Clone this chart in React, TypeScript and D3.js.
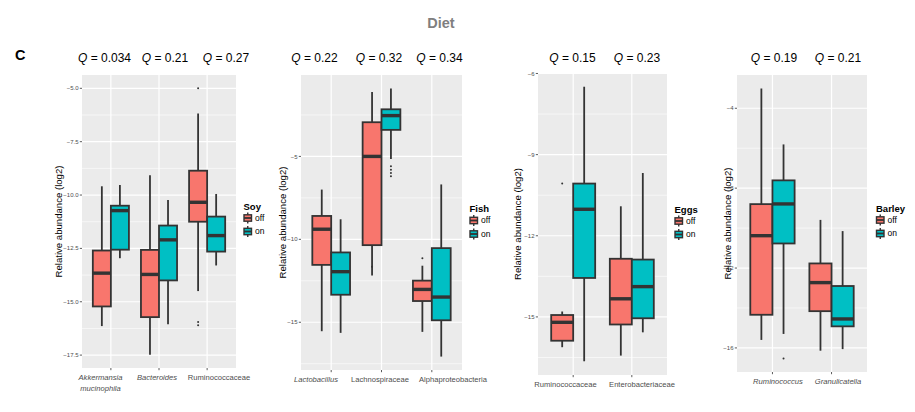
import React from 'react';
import * as d3 from 'd3';

// [lower whisker, Q1, median, Q3, upper whisker] in log2 abundance
type Box = [number, number, number, number, number];

// ---- Soy ----
const soyCategories = ['Akkermansia\nmucinophila', 'Bacteroides', 'Ruminococcaceae'];
const soyQ = ['0.034', '0.21', '0.27'];
const soyTicks = [-5, -7.5, -10, -12.5, -15, -17.5];
const soyOff: Box[] = [
  [-16.14, -15.22, -13.66, -12.6, -9.59],
  [-17.48, -15.72, -13.72, -12.57, -9.07],
  [-14.5, -11.25, -10.34, -8.86, -6.18],
];
const soyOn: Box[] = [
  [-12.96, -12.56, -10.73, -10.5, -9.53],
  [-16.06, -14.0, -12.1, -11.43, -10.23],
  [-13.3, -12.65, -11.9, -11.01, -9.95],
];
const soyOffOutliers = [[], [], [-5.0, -15.95, -16.1]];
const soyOnOutliers = [[], [], []];

// ---- Fish ----
const fishCategories = ['Lactobacillus', 'Lachnospiraceae', 'Alphaproteobacteria'];
const fishQ = ['0.22', '0.32', '0.34'];
const fishTicks = [-5, -10, -15];
const fishOff: Box[] = [
  [-15.54, -11.54, -9.39, -8.59, -7.0],
  [-12.18, -10.35, -5.0, -2.94, -1.11],
  [-15.58, -13.72, -13.02, -12.49, -11.59],
];
const fishOn: Box[] = [
  [-15.64, -13.34, -11.95, -10.79, -8.79],
  [-5.16, -3.4, -2.54, -2.16, -0.9],
  [-17.07, -14.88, -13.48, -10.53, -6.69],
];
const fishOffOutliers = [[], [-11.65], [-11.14]];
const fishOnOutliers = [[], [-5.6, -5.8, -6.0, -6.2], []];

// ---- Eggs ----
const eggsCategories = ['Ruminococcaceae', 'Enterobacteriaceae'];
const eggsQ = ['0.15', '0.23'];
const eggsTicks = [-6, -9, -12, -15];
const eggsOff: Box[] = [
  [-16.12, -15.88, -15.2, -14.93, -14.8],
  [-16.43, -15.28, -14.33, -12.85, -10.91],
];
const eggsOn: Box[] = [
  [-16.64, -13.56, -11.02, -10.07, -6.49],
  [-15.57, -15.05, -13.88, -12.88, -9.68],
];
const eggsOffOutliers = [[-10.07], []];
const eggsOnOutliers = [[], []];

// ---- Barley ----
const barleyCategories = ['Ruminococcus', 'Granulicatella'];
const barleyQ = ['0.19', '0.21'];
const barleyTicks = [-4, -8, -12, -16];
const barleyOff: Box[] = [
  [-15.6, -14.34, -10.38, -8.8, -3.01],
  [-16.14, -14.16, -12.73, -11.77, -9.59],
];
const barleyOn: Box[] = [
  [-15.3, -10.77, -8.79, -7.61, -5.81],
  [-16.06, -14.92, -14.55, -12.9, -10.15],
];
const barleyOffOutliers = [[], []];
const barleyOnOutliers = [[-16.53], []];

const groups = ['off', 'on'];
const italicLabels = new Set(['Akkermansia\nmucinophila', 'Bacteroides', 'Lactobacillus', 'Ruminococcus', 'Granulicatella']);

const FONT = '"Liberation Sans", Arial, Helvetica, sans-serif';
const OFF_COL = '#F8766D';
const ON_COL = '#00BFC4';
const LINE = '#333333';

interface PanelData {
  name: string;
  categories: string[];
  q: string[];
  ticks: number[];
  tickFmt: (v: number) => string;
  off: Box[];
  on: Box[];
  offOut: number[][];
  onOut: number[][];
}

interface Layout {
  x0: number; x1: number; y0: number; y1: number;
  yTitleX: number;
  qX: number[];
  labelX: number[];
  legX: number; legY: number;
}

const minus = (s: string) => s.replace('-', '\u2212');

const panels: { p: PanelData; L: Layout }[] = [
  {
    p: { name: 'Soy', categories: soyCategories, q: soyQ, ticks: soyTicks, tickFmt: d => minus(d3.format('.1f')(d)),
      off: soyOff, on: soyOn, offOut: soyOffOutliers, onOut: soyOnOutliers },
    L: { x0: 82, x1: 236, y0: 75, y1: 368, yTitleX: 58, qX: [104.5, 165, 226], labelX: [100.5, 157, 219],
      legX: 244, legY: 218 },
  },
  {
    p: { name: 'Fish', categories: fishCategories, q: fishQ, ticks: fishTicks, tickFmt: d => minus(String(d)),
      off: fishOff, on: fishOn, offOut: fishOffOutliers, onOut: fishOnOutliers },
    L: { x0: 301, x1: 462, y0: 75, y1: 370, yTitleX: 282, qX: [314.5, 379, 439.5], labelX: [316, 380, 453],
      legX: 470, legY: 220.5 },
  },
  {
    p: { name: 'Eggs', categories: eggsCategories, q: eggsQ, ticks: eggsTicks, tickFmt: d => minus(String(d)),
      off: eggsOff, on: eggsOn, offOut: eggsOffOutliers, onOut: eggsOnOutliers },
    L: { x0: 538, x1: 667, y0: 73, y1: 375, yTitleX: 517, qX: [572.5, 637], labelX: [565.5, 642],
      legX: 675, legY: 221 },
  },
  {
    p: { name: 'Barley', categories: barleyCategories, q: barleyQ, ticks: barleyTicks, tickFmt: d => minus(String(d)),
      off: barleyOff, on: barleyOn, offOut: barleyOffOutliers, onOut: barleyOnOutliers },
    L: { x0: 737, x1: 867, y0: 75, y1: 372, yTitleX: 727, qX: [774, 838], labelX: [778, 838],
      legX: 876.5, legY: 220 },
  },
];

function LegendKey({ x, y, fill }: { x: number; y: number; fill: string }) {
  // small boxplot glyph centred vertically on y
  const w = 7.5;
  const cx = x + w / 2;
  return (
    <g>
      <line x1={cx} x2={cx} y1={y - 5.5} y2={y + 5.5} stroke={LINE} strokeWidth={1.4} />
      <rect x={x} y={y - 3.2} width={w} height={6.4} fill={fill} stroke={LINE} strokeWidth={1.4} />
      <line x1={x} x2={x + w} y1={y} y2={y} stroke={LINE} strokeWidth={1.8} />
    </g>
  );
}

function Panel({ p, L }: { p: PanelData; L: Layout }) {
  const all = [...p.off.flat(), ...p.on.flat(), ...p.offOut.flat(), ...p.onOut.flat()];
  const [mn, mx] = d3.extent(all) as [number, number];
  const pad = (mx - mn) * 0.05;
  const y = d3.scaleLinear().domain([mn - pad, mx + pad]).range([L.y1, L.y0]);
  const x = d3.scalePoint<string>().domain(p.categories).range([L.x0, L.x1]).padding(0.6);
  const bw = x.step() * 0.375;
  const [dLo, dHi] = y.domain();

  // minor breaks halfway between majors, extended one step either side
  const d = Math.abs(p.ticks[1] - p.ticks[0]);
  const minor: number[] = [];
  const sorted = [...p.ticks].sort((a, b) => a - b);
  for (let i = -1; i < sorted.length; i++) {
    const v = (i < 0 ? sorted[0] - d : sorted[i]) + d / 2;
    if (v > dLo && v < dHi && !sorted.includes(v)) minor.push(v);
  }

  const cy = (L.y0 + L.y1) / 2;

  return (
    <g fontFamily={FONT}>
      {/* Q values */}
      {p.q.map((q, i) => (
        <text key={q + i} x={L.qX[i]} y={62} fontSize={12} textAnchor="middle" fill="#000">
          <tspan fontStyle="italic">Q</tspan> = {q}
        </text>
      ))}

      <rect x={L.x0} y={L.y0} width={L.x1 - L.x0} height={L.y1 - L.y0} fill="#EBEBEB" />
      {minor.map(v => (
        <line key={'m' + v} x1={L.x0} x2={L.x1} y1={y(v)} y2={y(v)} stroke="#fff" strokeWidth={0.6} />
      ))}
      {p.ticks.map(v => (
        <line key={'t' + v} x1={L.x0} x2={L.x1} y1={y(v)} y2={y(v)} stroke="#fff" strokeWidth={1.2} />
      ))}
      {p.categories.map(c => (
        <line key={'v' + c} x1={x(c)} x2={x(c)} y1={L.y0} y2={L.y1} stroke="#fff" strokeWidth={1.2} />
      ))}

      {/* y axis */}
      {p.ticks.map(v => (
        <g key={'yl' + v}>
          <line x1={L.x0 - 2.2} x2={L.x0} y1={y(v)} y2={y(v)} stroke="#333" strokeWidth={0.8} />
          <text x={L.x0 - 3.5} y={y(v)} dy="0.35em" fontSize={6} textAnchor="end" fill="#4d4d4d">
            {p.tickFmt(v)}
          </text>
        </g>
      ))}
      <text
        x={L.yTitleX}
        y={cy}
        transform={`rotate(-90, ${L.yTitleX}, ${cy})`}
        fontSize={9.6}
        textAnchor="middle"
        dominantBaseline="central"
        fill="#000"
      >
        Relative abundance (log2)
      </text>

      {/* x axis */}
      {p.categories.map((c, i) => (
        <g key={'xl' + c}>
          <line x1={x(c)} x2={x(c)} y1={L.y1} y2={L.y1 + 2.2} stroke="#333" strokeWidth={0.8} />
          <text
            x={L.labelX[i]}
            y={L.y1 + 12}
            fontSize={7.6}
            textAnchor="middle"
            fill="#4d4d4d"
            fontStyle={italicLabels.has(c) ? 'italic' : 'normal'}
          >
            {c.split('\n').map((line, k) => (
              <tspan key={k} x={L.labelX[i]} dy={k === 0 ? 0 : 11}>{line}</tspan>
            ))}
          </text>
        </g>
      ))}

      {/* boxes */}
      {p.categories.map((c, i) =>
        groups.map(g => {
          const b = g === 'off' ? p.off[i] : p.on[i];
          const outs = g === 'off' ? p.offOut[i] : p.onOut[i];
          const left = (x(c) as number) + (g === 'off' ? -bw : 0);
          const mid = left + bw / 2;
          const [lo, q1, med, q3, hi] = b;
          return (
            <g key={c + g}>
              <line x1={mid} x2={mid} y1={y(hi)} y2={y(q3)} stroke={LINE} strokeWidth={1.8} />
              <line x1={mid} x2={mid} y1={y(q1)} y2={y(lo)} stroke={LINE} strokeWidth={1.8} />
              <rect
                x={left}
                y={y(q3)}
                width={bw}
                height={y(q1) - y(q3)}
                fill={g === 'off' ? OFF_COL : ON_COL}
                stroke={LINE}
                strokeWidth={1.8}
              />
              <line x1={left} x2={left + bw} y1={y(med)} y2={y(med)} stroke={LINE} strokeWidth={3.4} />
              {outs.map((o, k) => (
                <circle key={k} cx={mid} cy={y(o)} r={1} fill={LINE} />
              ))}
            </g>
          );
        })
      )}

      {/* legend */}
      <text x={L.legX - 0.5} y={L.legY - 8.5} fontSize={9.5} fontWeight="bold" fill="#000">{p.name}</text>
      {groups.map((g, k) => (
        <g key={'lg' + g}>
          <LegendKey x={L.legX} y={L.legY + k * 13.5} fill={g === 'off' ? OFF_COL : ON_COL} />
          <text x={L.legX + 11} y={L.legY + k * 13.5} dy="0.35em" fontSize={8.5} fill="#000">{g}</text>
        </g>
      ))}
    </g>
  );
}

export default function App() {
  return (
    <svg
      width={915}
      height={412}
      style={{ position: 'absolute', left: 0, top: 0, background: '#fff' }}
    >
      <text x={441} y={28} fontFamily={FONT} fontSize={14.5} fontWeight="bold" fill="#7F7F7F" textAnchor="middle">
        Diet
      </text>
      <text x={15} y={60} fontFamily={FONT} fontSize={14.5} fontWeight="bold" fill="#000">C</text>
      {panels.map(({ p, L }) => (
        <Panel key={p.name} p={p} L={L} />
      ))}
    </svg>
  );
}
